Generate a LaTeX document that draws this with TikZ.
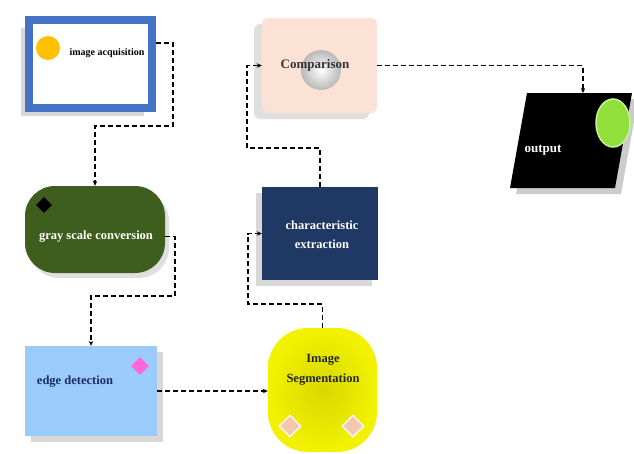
\documentclass[tikz,border=0pt]{standalone}
\usepackage{fontspec}
\setmainfont{Liberation Serif}
\usetikzlibrary{arrows.meta,shapes.geometric,shadows}
\definecolor{acqblue}{HTML}{4472C4}
\definecolor{sun}{HTML}{FFC000}
\definecolor{gnode}{HTML}{3E5E1E}
\definecolor{edgeblue}{HTML}{9BCBFB}
\definecolor{pinkd}{HTML}{FF66DD}
\definecolor{navy}{HTML}{1F3864}
\definecolor{peach}{HTML}{FBE2D5}
\definecolor{segin}{HTML}{D8D800}
\definecolor{segout}{HTML}{F2F200}
\definecolor{dpeach}{HTML}{F2C9B0}
\definecolor{limeg}{HTML}{92E03C}
\definecolor{navytext}{HTML}{1A2A6A}
\begin{document}
\begin{tikzpicture}[x=1pt,y=-1pt,
  conn/.style={draw=black,line width=1.6pt,dash pattern=on 5pt off 3pt,-{Stealth[length=5pt,width=4.5pt]}},
  lbl/.style={font=\bfseries\fontsize{12.5}{14}\selectfont,align=center,inner sep=0},
  box/.style={rectangle,inner sep=0}]
\fill[white] (0,0) rectangle (634,453);
\useasboundingbox (0,0) rectangle (634,453);

% image acquisition
\node[box,fill=white,draw=acqblue,line width=8pt,minimum width=123pt,minimum height=88pt,
  drop shadow={shadow xshift=-8pt,shadow yshift=-8pt,opacity=0.3}] (acq) at (90.5,64) {};
\node[circle,fill=sun,minimum size=24pt,inner sep=0] (sunc) at (48,48) {};
\node[lbl,font=\bfseries\fontsize{10}{12}\selectfont] (acqt) at (107,53) {image acquisition};

% gray scale conversion
\node[box,rounded corners=30pt,fill=gnode,minimum width=140pt,minimum height=87pt,
  drop shadow={shadow xshift=4pt,shadow yshift=-5pt,opacity=0.25}] (gray) at (95,229.5) {};
\node[diamond,fill=black,minimum size=16pt,inner sep=0] (gdia) at (44,205) {};
\node[lbl,text=white] (grayt) at (96,237) {gray scale conversion};

% edge detection
\node[box,fill=edgeblue,minimum width=132pt,minimum height=90pt,
  drop shadow={shadow xshift=6pt,shadow yshift=-6pt,opacity=0.3}] (edge) at (91,391) {};
\node[diamond,fill=pinkd,minimum size=18pt,inner sep=0] (edia) at (140,366) {};
\node[lbl,text=navytext] (edget) at (75,382) {edge detection};

% image segmentation
\node[box,rounded corners=40pt,shading=radial,inner color=segin,outer color=segout,
  minimum width=109pt,minimum height=124pt] (seg) at (322.5,390) {};
\node[diamond,fill=dpeach,draw=white!80!dpeach,line width=1.5pt,minimum size=22pt,inner sep=0] (sd1) at (290,426) {};
\node[diamond,fill=dpeach,draw=white!80!dpeach,line width=1.5pt,minimum size=22pt,inner sep=0] (sd2) at (353,426) {};
\node[lbl,text=black!85,font=\bfseries\fontsize{12.5}{20}\selectfont] (segt) at (323,370) {Image\\Segmentation};

% characteristic extraction
\node[box,fill=navy,minimum width=116pt,minimum height=93pt,
  drop shadow={shadow xshift=-6pt,shadow yshift=-6pt,opacity=0.3}] (char) at (320,233.5) {};
\node[lbl,text=white,font=\bfseries\fontsize{12.5}{19}\selectfont] (chart) at (322,235) {characteristic\\extraction};

% comparison
\node[box,fill=peach,rounded corners=6pt,minimum width=115pt,minimum height=95pt,
  drop shadow={shadow xshift=-8pt,shadow yshift=-6pt,opacity=0.25}] (comp) at (319.5,65.5) {};
\node[circle,shading=radial,inner color=white,outer color=gray!55,minimum size=40pt,inner sep=0] (ball) at (321,70) {};
\node[lbl,text=black!80,font=\bfseries\fontsize{13}{15}\selectfont] (compt) at (315,65) {Comparison};

% output
\fill[black,opacity=0.2] (533,99) -- (638,99) -- (621,194) -- (516,194) -- cycle;
\fill[black] (527,93) -- (632,93) -- (615,188) -- (510,188) -- cycle;
\coordinate (outtop) at (583,93);
\node[ellipse,fill=limeg,draw=limeg!50!white,line width=1.5pt,minimum width=34pt,minimum height=48pt,inner sep=0] (gball) at (613,123) {};
\node[lbl,text=white,font=\bfseries\fontsize{13}{15}\selectfont] (outt) at (543,150) {output};

% connectors
\coordinate (j1) at (173,126);
\coordinate (j2) at (175,296);
\coordinate (j3) at (248,304);
\coordinate (j4) at (247,148);
\draw[conn] ([yshift=21pt]acq.east) -| (j1) -| (gray.north);
\draw[conn] ([yshift=-7pt]gray.east) -| (j2) -| (edge.north);
\draw[conn] (edge.east) -- (edge.east -| seg.west);
\draw[conn] (seg.north) |- (j3) |- (char.west);
\draw[conn] (char.north) |- (j4) |- (comp.west);
\draw[conn] (comp.east) -| (outtop);
\end{tikzpicture}
\end{document}
